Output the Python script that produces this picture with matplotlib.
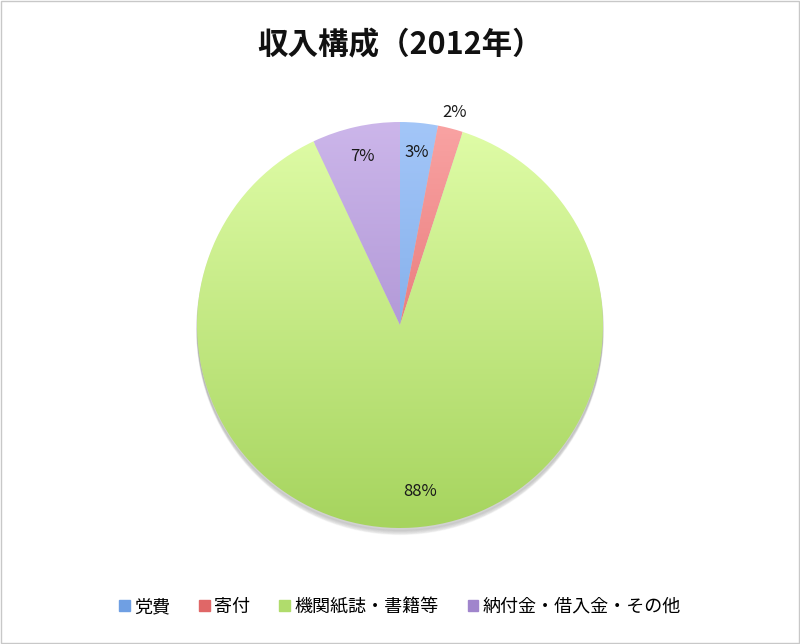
import matplotlib.pyplot as plt
import numpy as np
from matplotlib.colors import LinearSegmentedColormap
from matplotlib.patches import Rectangle

plt.rcParams['font.family'] = ['Noto Sans CJK JP', 'DejaVu Sans']

title = "収入構成（2012年）"
labels = ["党費", "寄付", "機関紙誌・書籍等", "納付金・借入金・その他"]
shares = [3, 2, 88, 7]
top_colors = ["#a3c6f8", "#f9a3a3", "#e0fda8", "#ccb6ea"]
bottom_colors = ["#6a9ce0", "#dc5a5a", "#a6d45e", "#9a7ec6"]
legend_colors = ["#6f9fe3", "#e06767", "#b0dc6c", "#a085cc"]

fig = plt.figure(figsize=(8, 6.44), dpi=100)
fig.patches.append(Rectangle((0.001, 0.001), 0.998, 0.998, transform=fig.transFigure,
                             fill=False, edgecolor="#c8c8c8", linewidth=1))

ax = fig.add_axes([197 / 800, 1 - 528 / 644, 406 / 800, 406 / 644])
ax.axis("off")

wedges, _ = ax.pie(shares, startangle=90, counterclock=False, radius=1.0,
                   colors=["none"] * 4, wedgeprops=dict(linewidth=0))
ax.set_xlim(-1, 1)
ax.set_ylim(-1, 1)
ax.set_aspect("equal")

# soft shadow under the pie
for i in range(6):
    sh = plt.Circle((0.0, -0.012 - i * 0.004), 1.0, color="#000000", alpha=0.03,
                    zorder=0, clip_on=False)
    ax.add_patch(sh)

grad = np.linspace(1, 0, 256).reshape(-1, 1)
for w, c1, c2 in zip(wedges, top_colors, bottom_colors):
    cmap = LinearSegmentedColormap.from_list("g", [c2, c1])
    im = ax.imshow(grad, cmap=cmap, extent=(-1, 1, -1, 1), aspect="auto",
                   vmin=0, vmax=1, zorder=1, origin="upper")
    im.set_clip_path(w)

# percentage labels
dists = [0.855, 1.08, 0.82, 0.85]
for w, s, d in zip(wedges, shares, dists):
    ang = np.deg2rad((w.theta1 + w.theta2) / 2)
    x, y = d * np.cos(ang), d * np.sin(ang)
    if s == 88:
        x += 0.05
    ax.text(x, y, f"{s}%", ha="center", va="center", fontsize=12, color="#1a1a1a",
            zorder=3, clip_on=False)

fig.text(0.5, 1 - 45 / 644, title, ha="center", va="center", fontsize=22,
         fontweight="bold", color="#111111")

handles = [plt.Rectangle((0, 0), 1, 1, color=c) for c in legend_colors]
fig.legend(handles, labels, loc="center", bbox_to_anchor=(0.5, 1 - 607 / 644), ncol=4,
           frameon=False, fontsize=13, handlelength=0.6, handleheight=0.6,
           handletextpad=0.25, columnspacing=1.6)

fig.savefig("out.png", dpi=100)
